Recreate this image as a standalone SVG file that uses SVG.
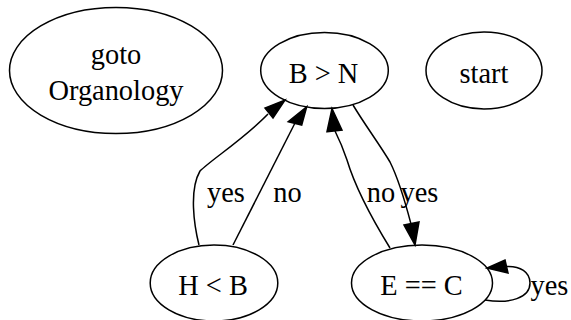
<svg xmlns="http://www.w3.org/2000/svg" width="571" height="320" viewBox="0 0 571 320">
<style>
  .node ellipse { fill: none; stroke: #000; stroke-width: 1.5; }
  .lbl { font-family: "Liberation Serif", "Times New Roman", serif; font-size: 28.4px; fill: #000; text-anchor: middle; }
  .edge path { fill: none; stroke: #000; stroke-width: 1.5; }
  .edge polygon { fill: #000; stroke: #000; stroke-width: 1.5; }
</style>
<rect width="571" height="320" fill="#fff"/>
<g id="goto" class="node">
  <ellipse cx="116" cy="70.5" rx="106.5" ry="63"/>
  <text class="lbl" x="116" y="64">goto</text>
  <text class="lbl" x="116" y="100">Organology</text>
</g>
<g id="BgtN" class="node">
  <ellipse cx="324.5" cy="70.5" rx="63.8" ry="38"/>
  <text class="lbl" x="323.5" y="83.3">B &gt; N</text>
</g>
<g id="start" class="node">
  <ellipse cx="484" cy="70.5" rx="58" ry="38.5"/>
  <text class="lbl" x="484" y="83.3">start</text>
</g>
<g id="HltB" class="node">
  <ellipse cx="214" cy="283" rx="63.8" ry="38"/>
  <text class="lbl" x="213" y="295">H &lt; B</text>
</g>
<g id="EeqC" class="node">
  <ellipse cx="422" cy="283" rx="70.5" ry="38"/>
  <text class="lbl" x="421.5" y="295">E == C</text>
</g>
<g id="edges" class="edge">
  <path d="M199,245 C194,225 189,190 200,171 C211,160 245,138 268,114"/>
  <polygon points="265,108 273,118 285,100"/>
  <text class="lbl" x="226" y="201.7">yes</text>
  <path d="M233,245 L295,123"/>
  <polygon points="288.3,121.7 301.7,125 306.7,106.7"/>
  <text class="lbl" x="287.5" y="201.7">no</text>
  <path d="M390,248 C374,222 356,190 347,160 C344,151 340,141 335,131"/>
  <polygon points="327,131.7 342,130 332,108.5"/>
  <text class="lbl" x="381" y="202">no</text>
  <path d="M353,105 C365,125 380,145 390,162 C400,182 406,205 411,224"/>
  <polygon points="404,225 419,222 415,245"/>
  <text class="lbl" x="419.5" y="202">yes</text>
  <path d="M485,300 C510,304 530,298 530,283 C530,272 520,266 507,266.5"/>
  <polygon points="505,260 508,273 487,268"/>
  <text class="lbl" x="549.5" y="295">yes</text>
</g>
</svg>
